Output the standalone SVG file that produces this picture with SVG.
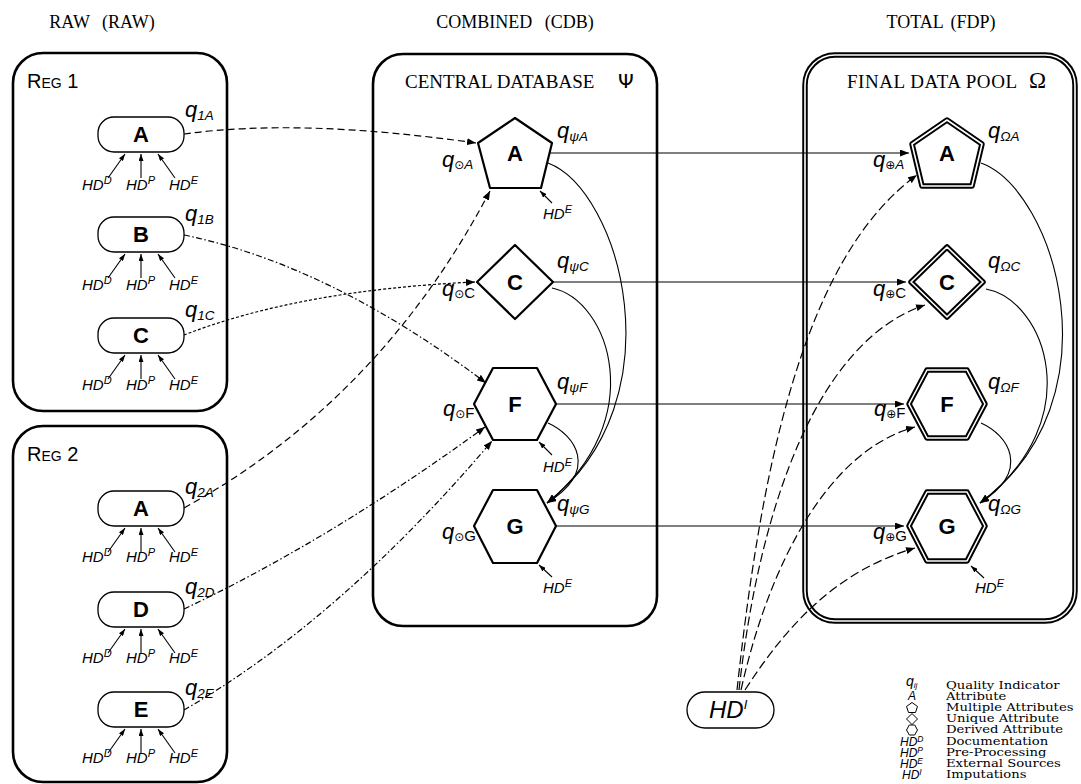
<svg xmlns="http://www.w3.org/2000/svg" width="1081" height="784" viewBox="0 0 1081 784">
<style>
.box{fill:none;stroke:#000;stroke-width:2.6}
.node{fill:#fff;stroke:#000;stroke-width:1.3}
.shape{fill:#fff;stroke:#000;stroke-width:2.2;stroke-linejoin:round}
.dbl1{fill:#fff;stroke:#000;stroke-width:5.5;stroke-linejoin:round}
.dbl2{fill:none;stroke:#fff;stroke-width:1.6;stroke-linejoin:round}
.lbl{font-family:"Liberation Sans",Arial,sans-serif;font-weight:bold;font-size:21px;text-anchor:middle}
.big{font-size:22px}
.q{font-family:"Liberation Sans",Arial,sans-serif;font-style:italic;font-size:22px}
.sub{font-size:13.5px}
.sym{font-family:"DejaVu Sans",sans-serif;font-style:normal;font-size:12px}
.up{font-style:normal;font-size:15px}
.hd{font-family:"Liberation Sans",Arial,sans-serif;font-style:italic;font-size:15px}
.sup{font-size:11px}
.hdr{font-family:"Liberation Serif","Times New Roman",serif;font-size:18px;text-anchor:middle}
.ttl{font-family:"Liberation Serif","Times New Roman",serif;font-size:19px}
.reg{font-family:"Liberation Sans",Arial,sans-serif;font-size:20px}
.leg{font-family:"DejaVu Serif","Liberation Serif",serif;font-size:11px}
.lq{font-family:"Liberation Sans",Arial,sans-serif;font-style:italic;font-size:14px}
.lhd{font-family:"Liberation Sans",Arial,sans-serif;font-style:italic;font-size:12px}
.lsup{font-size:8.5px}
.c{fill:none;stroke:#000;stroke-width:1.2}
.s{fill:none;stroke:#000;stroke-width:1.1}
.d1{stroke-dasharray:7,4}
.d2{stroke-dasharray:6,2.5,1.5,2.5}
.d3{stroke-dasharray:3,2}
.d4{stroke-dasharray:9,4}
</style>
<defs>
<marker id="ah" markerWidth="9" markerHeight="7" refX="9" refY="3.5" orient="auto" markerUnits="userSpaceOnUse"><path d="M0,0 L9,3.5 L0,7 z" fill="#000"/></marker>
<marker id="as" markerWidth="7" markerHeight="5" refX="7" refY="2.5" orient="auto" markerUnits="userSpaceOnUse"><path d="M0,0 L7,2.5 L0,5 z" fill="#000"/></marker>
</defs>
<rect width="1081" height="784" fill="#fff"/>

<!-- headers -->
<text class="hdr" x="102" y="28" word-spacing="8">RAW (RAW)</text>
<text class="hdr" x="515" y="28" word-spacing="8">COMBINED (CDB)</text>
<text class="hdr" x="941" y="28" word-spacing="3">TOTAL (FDP)</text>

<!-- containers -->
<g id="reg1">
<rect class="box" x="13" y="53" width="214" height="358" rx="30"/>
<text class="reg" x="27" y="88">R<tspan font-size="14px">EG</tspan> 1</text>
</g>
<g id="reg2">
<rect class="box" x="13" y="426" width="214" height="356" rx="30"/>
<text class="reg" x="27" y="461">R<tspan font-size="14px">EG</tspan> 2</text>
</g>
<g id="cdb">
<rect class="box" x="373" y="54" width="284" height="572" rx="30"/>
<text class="ttl" x="405" y="88">CENTRAL DATABASE</text>
<text x="618" y="88" font-family="DejaVu Sans,sans-serif" font-size="20px">Ψ</text>
</g>
<g id="fdp">
<rect x="805" y="55" width="270" height="566" rx="30" fill="none" stroke="#000" stroke-width="5.5"/>
<rect x="805" y="55" width="270" height="566" rx="30" fill="none" stroke="#fff" stroke-width="1.6"/>
<text class="ttl" x="847" y="88" textLength="170" lengthAdjust="spacing">FINAL DATA POOL</text>
<text x="1029" y="88" font-family="Liberation Serif,serif" font-size="23px">Ω</text>
</g>

<!-- connectors -->
<g id="connectors">
<path class="c d1" d="M184,134 Q300,118 476,143" marker-end="url(#ah)"/>
<path class="c d2" d="M184,235 Q330,265 486,383" marker-end="url(#ah)"/>
<path class="c d3" d="M184,335 Q300,290 475,282" marker-end="url(#ah)"/>
<path class="c d1" d="M184,508 Q380,400 490,191" marker-end="url(#ah)"/>
<path class="c d2" d="M184,609 Q330,540 485,427" marker-end="url(#ah)"/>
<path class="c d2" d="M184,710 Q340,620 492,441" marker-end="url(#ah)"/>
<path class="c" d="M549,153 L909,153" marker-end="url(#ah)"/>
<path class="c" d="M553,282 L906,282" marker-end="url(#ah)"/>
<path class="c" d="M556,404 L904,404" marker-end="url(#ah)"/>
<path class="c" d="M556,526 L904,526" marker-end="url(#ah)"/>
<path class="s" d="M548,163 C620,190 680,400 547,503" marker-end="url(#ah)"/>
<path class="s" d="M552,288 C610,300 650,420 547,503" marker-end="url(#ah)"/>
<path class="s" d="M548,423 C575,435 600,470 547,503" marker-end="url(#ah)"/>
<path class="s" d="M981,163 C1055,190 1120,400 980,503" marker-end="url(#ah)"/>
<path class="s" d="M986,289 C1045,300 1090,420 980,503" marker-end="url(#ah)"/>
<path class="s" d="M981,423 C1008,435 1032,470 980,503" marker-end="url(#ah)"/>
<path class="c d4" d="M737,690 C760,480 800,260 917,175" marker-end="url(#ah)"/>
<path class="c d4" d="M739,690 C760,500 820,340 925,305" marker-end="url(#ah)"/>
<path class="c d4" d="M741,690 C770,560 830,450 915,427" marker-end="url(#ah)"/>
<path class="c d4" d="M745,690 C790,620 840,570 915,548" marker-end="url(#ah)"/>
<g class="s" marker-end="url(#as)">
<path d="M108,178 L125,154"/><path d="M141,178 L141,154"/><path d="M175,178 L158,154"/>
<path d="M108,278 L125,254"/><path d="M141,278 L141,254"/><path d="M175,278 L158,254"/>
<path d="M108,379 L125,355"/><path d="M141,379 L141,355"/><path d="M175,379 L158,355"/>
<path d="M108,552 L125,528"/><path d="M141,552 L141,528"/><path d="M175,552 L158,528"/>
<path d="M108,653 L125,629"/><path d="M141,653 L141,629"/><path d="M175,653 L158,629"/>
<path d="M108,753 L125,729"/><path d="M141,753 L141,729"/><path d="M175,753 L158,729"/>
<path d="M552,203 L540,191"/>
<path d="M552,455 L539,442"/>
<path d="M552,577 L539,565"/>
<path d="M984,578 L971,566"/>
</g>
</g>

<!-- RAW nodes -->
<g id="r1a">
<rect class="node" x="98" y="117" width="86" height="35" rx="16"/>
<text class="lbl big" x="141" y="142">A</text>
<text class="q" x="185" y="117">q<tspan class="sub" dy="3">1A</tspan></text>
<text class="hd" x="82" y="190">HD<tspan class="sup" dy="-6">D</tspan></text>
<text class="hd" x="126" y="190">HD<tspan class="sup" dy="-6">P</tspan></text>
<text class="hd" x="169" y="190">HD<tspan class="sup" dy="-6">E</tspan></text>
</g>
<g id="r1b">
<rect class="node" x="98" y="217" width="86" height="35" rx="16"/>
<text class="lbl big" x="141" y="242">B</text>
<text class="q" x="185" y="221">q<tspan class="sub" dy="3">1B</tspan></text>
<text class="hd" x="82" y="290">HD<tspan class="sup" dy="-6">D</tspan></text>
<text class="hd" x="126" y="290">HD<tspan class="sup" dy="-6">P</tspan></text>
<text class="hd" x="169" y="290">HD<tspan class="sup" dy="-6">E</tspan></text>
</g>
<g id="r1c">
<rect class="node" x="98" y="318" width="86" height="35" rx="16"/>
<text class="lbl big" x="141" y="343">C</text>
<text class="q" x="185" y="317">q<tspan class="sub" dy="3">1C</tspan></text>
<text class="hd" x="82" y="390">HD<tspan class="sup" dy="-6">D</tspan></text>
<text class="hd" x="126" y="390">HD<tspan class="sup" dy="-6">P</tspan></text>
<text class="hd" x="169" y="390">HD<tspan class="sup" dy="-6">E</tspan></text>
</g>
<g id="r2a">
<rect class="node" x="98" y="491" width="86" height="35" rx="16"/>
<text class="lbl big" x="141" y="516">A</text>
<text class="q" x="185" y="494">q<tspan class="sub" dy="3">2A</tspan></text>
<text class="hd" x="82" y="562">HD<tspan class="sup" dy="-6">D</tspan></text>
<text class="hd" x="126" y="562">HD<tspan class="sup" dy="-6">P</tspan></text>
<text class="hd" x="169" y="562">HD<tspan class="sup" dy="-6">E</tspan></text>
</g>
<g id="r2d">
<rect class="node" x="98" y="592" width="86" height="35" rx="16"/>
<text class="lbl big" x="141" y="617">D</text>
<text class="q" x="185" y="594">q<tspan class="sub" dy="3">2D</tspan></text>
<text class="hd" x="82" y="663">HD<tspan class="sup" dy="-6">D</tspan></text>
<text class="hd" x="126" y="663">HD<tspan class="sup" dy="-6">P</tspan></text>
<text class="hd" x="169" y="663">HD<tspan class="sup" dy="-6">E</tspan></text>
</g>
<g id="r2e">
<rect class="node" x="98" y="692" width="86" height="35" rx="16"/>
<text class="lbl big" x="141" y="717">E</text>
<text class="q" x="185" y="695">q<tspan class="sub" dy="3">2E</tspan></text>
<text class="hd" x="82" y="763">HD<tspan class="sup" dy="-6">D</tspan></text>
<text class="hd" x="126" y="763">HD<tspan class="sup" dy="-6">P</tspan></text>
<text class="hd" x="169" y="763">HD<tspan class="sup" dy="-6">E</tspan></text>
</g>

<!-- CDB nodes -->
<g id="cA">
<path class="shape" d="M515,118 L552,143 L541,188 L490,188 L478,143 Z"/>
<text class="lbl big" x="515" y="161">A</text>
<text class="q" x="557" y="138">q<tspan class="sub" dy="3">ψA</tspan></text>
<text class="q" x="442" y="167">q<tspan class="sub" dy="2"><tspan class="sym">⊙</tspan>A</tspan></text>
<text class="hd" x="543" y="219">HD<tspan class="sup" dy="-6">E</tspan></text>
</g>
<g id="cC">
<path class="shape" d="M477,282 L515,245 L553,282 L515,319 Z"/>
<text class="lbl big" x="515" y="290">C</text>
<text class="q" x="557" y="268">q<tspan class="sub" dy="3">ψC</tspan></text>
<text class="q" x="442" y="296">q<tspan class="sub" dy="2"><tspan class="sym">⊙</tspan><tspan class="up">C</tspan></tspan></text>
</g>
<g id="cF">
<path class="shape" d="M474,404 L493,368 L537,368 L556,404 L537,440 L493,440 Z"/>
<text class="lbl big" x="515" y="412">F</text>
<text class="q" x="557" y="389">q<tspan class="sub" dy="3">ψF</tspan></text>
<text class="q" x="443" y="416">q<tspan class="sub" dy="2"><tspan class="sym">⊙</tspan><tspan class="up">F</tspan></tspan></text>
<text class="hd" x="543" y="472">HD<tspan class="sup" dy="-6">E</tspan></text>
</g>
<g id="cG">
<path class="shape" d="M474,526 L493,490 L537,490 L556,526 L537,563 L493,563 Z"/>
<text class="lbl big" x="515" y="534">G</text>
<text class="q" x="557" y="511">q<tspan class="sub" dy="3">ψG</tspan></text>
<text class="q" x="442" y="539">q<tspan class="sub" dy="2"><tspan class="sym">⊙</tspan><tspan class="up">G</tspan></tspan></text>
<text class="hd" x="543" y="593">HD<tspan class="sup" dy="-6">E</tspan></text>
</g>

<!-- FDP nodes -->
<g id="fA">
<path class="dbl1" d="M947,120 L982,144 L972,186 L922,186 L912,144 Z"/>
<path class="dbl2" d="M947,120 L982,144 L972,186 L922,186 L912,144 Z"/>
<text class="lbl big" x="947" y="161">A</text>
<text class="q" x="988" y="138">q<tspan class="sub" dy="3">ΩA</tspan></text>
<text class="q" x="873" y="167">q<tspan class="sub" dy="2"><tspan class="sym">⊕</tspan>A</tspan></text>
</g>
<g id="fC">
<path class="dbl1" d="M911,282 L947,247 L983,282 L947,317 Z"/>
<path class="dbl2" d="M911,282 L947,247 L983,282 L947,317 Z"/>
<text class="lbl big" x="947" y="290">C</text>
<text class="q" x="988" y="268">q<tspan class="sub" dy="3">ΩC</tspan></text>
<text class="q" x="873" y="296">q<tspan class="sub" dy="2"><tspan class="sym">⊕</tspan><tspan class="up">C</tspan></tspan></text>
</g>
<g id="fF">
<path class="dbl1" d="M909,404 L927,370 L967,370 L985,404 L967,438 L927,438 Z"/>
<path class="dbl2" d="M909,404 L927,370 L967,370 L985,404 L967,438 L927,438 Z"/>
<text class="lbl big" x="947" y="412">F</text>
<text class="q" x="988" y="389">q<tspan class="sub" dy="3">ΩF</tspan></text>
<text class="q" x="874" y="416">q<tspan class="sub" dy="2"><tspan class="sym">⊕</tspan><tspan class="up">F</tspan></tspan></text>
</g>
<g id="fG">
<path class="dbl1" d="M909,526 L927,492 L967,492 L985,526 L967,561 L927,561 Z"/>
<path class="dbl2" d="M909,526 L927,492 L967,492 L985,526 L967,561 L927,561 Z"/>
<text class="lbl big" x="947" y="534">G</text>
<text class="q" x="988" y="511">q<tspan class="sub" dy="3">ΩG</tspan></text>
<text class="q" x="873" y="539">q<tspan class="sub" dy="2"><tspan class="sym">⊕</tspan><tspan class="up">G</tspan></tspan></text>
<text class="hd" x="975" y="593">HD<tspan class="sup" dy="-6">E</tspan></text>
</g>

<!-- imputations node -->
<g id="hdi">
<rect class="node" x="687" y="692" width="87" height="36" rx="18"/>
<text x="709" y="718" style="font-family:'Liberation Sans',Arial,sans-serif;font-style:italic;font-size:24px">HD<tspan style="font-size:13px" dy="-9">I</tspan></text>
</g>

<!-- legend -->
<g id="legend">
<text class="lq" x="906" y="686">q<tspan style="font-size:8px" dy="2">ij</tspan></text>
<text class="lhd" x="908" y="700">A</text>
<path d="M912,702.5 L917.5,706.5 L915.5,712.5 L908.5,712.5 L906.5,706.5 Z" fill="#fff" stroke="#000" stroke-width="1"/>
<path d="M906.5,719 L912,713.5 L917.5,719 L912,724.5 Z" fill="#fff" stroke="#000" stroke-width="1"/>
<path d="M906.5,730 L909.3,725 L914.7,725 L917.5,730 L914.7,735 L909.3,735 Z" fill="#fff" stroke="#000" stroke-width="1" stroke-linejoin="round"/>
<text class="lhd" x="900" y="746">HD<tspan class="lsup" dy="-4">D</tspan></text>
<text class="lhd" x="900" y="757">HD<tspan class="lsup" dy="-4">P</tspan></text>
<text class="lhd" x="900" y="768">HD<tspan class="lsup" dy="-4">E</tspan></text>
<text class="lhd" x="902" y="779">HD<tspan class="lsup" dy="-4">I</tspan></text>
<g transform="translate(946,0) scale(1.2,1) translate(-946,0)">
<text class="leg" x="946" y="689">Quality Indicator</text>
<text class="leg" x="946" y="700">Attribute</text>
<text class="leg" x="946" y="711">Multiple Attributes</text>
<text class="leg" x="946" y="722">Unique Attribute</text>
<text class="leg" x="946" y="733">Derived Attribute</text>
<text class="leg" x="946" y="745">Documentation</text>
<text class="leg" x="946" y="756">Pre-Processing</text>
<text class="leg" x="946" y="767">External Sources</text>
<text class="leg" x="946" y="778">Imputations</text>
</g>
</g>
</svg>
